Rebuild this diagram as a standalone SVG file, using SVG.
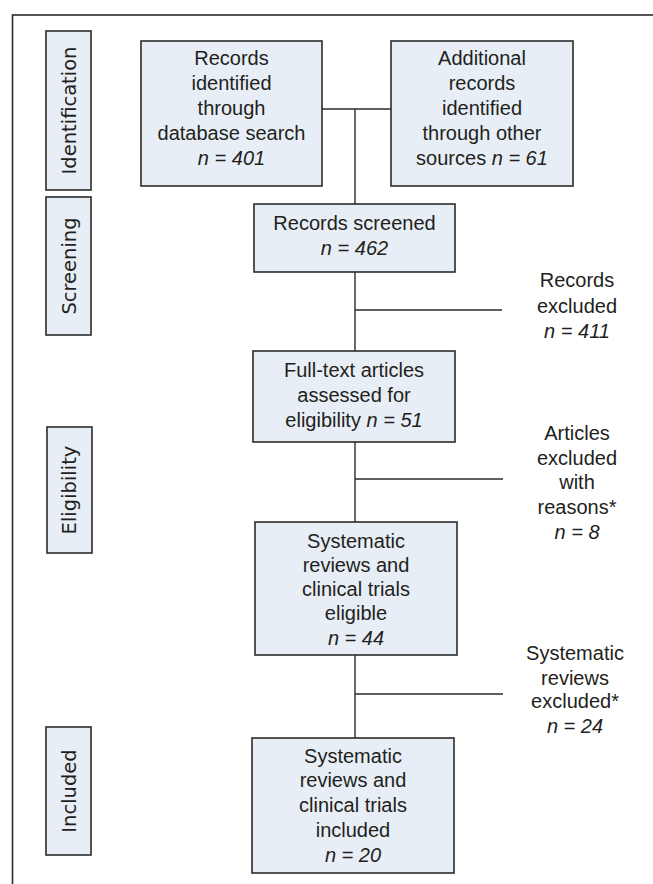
<svg xmlns="http://www.w3.org/2000/svg" width="653" height="884" viewBox="0 0 653 884">
<style>
  .box { fill: #e7eef5; stroke: #2b2b2b; stroke-width: 1.6; }
  .lbl { fill: #e7eef5; stroke: #2b2b2b; stroke-width: 1.6; }
  .t { font-family: "Liberation Sans", Arial, sans-serif; font-size: 20px; fill: #231f20; text-anchor: middle; }
  .side { font-family: "DejaVu Sans", Verdana, sans-serif; font-size: 19.5px; fill: #231f20; text-anchor: middle; }
  .i { font-style: italic; }
  .ln { stroke: #2b2b2b; stroke-width: 1.4; fill: none; }
</style>
<rect width="653" height="884" fill="#ffffff"/>
<rect x="12.5" y="15" width="700" height="900" fill="none" stroke="#2b2b2b" stroke-width="1.6"/>

<g id="label-identification">
  <rect class="lbl" x="46" y="31" width="45" height="159"/>
  <text class="side" transform="translate(75.5,110.5) rotate(-90)">Identification</text>
</g>
<g id="label-screening">
  <rect class="lbl" x="46" y="197" width="45" height="138"/>
  <text class="side" transform="translate(75.5,266) rotate(-90)">Screening</text>
</g>
<g id="label-eligibility">
  <rect class="lbl" x="47" y="427" width="45" height="126"/>
  <text class="side" transform="translate(76,490) rotate(-90)">Eligibility</text>
</g>
<g id="label-included">
  <rect class="lbl" x="46" y="727" width="45" height="128"/>
  <text class="side" transform="translate(75.5,791) rotate(-90)">Included</text>
</g>

<g id="connectors">
  <line class="ln" x1="322" y1="109" x2="391" y2="109"/>
  <line class="ln" x1="355" y1="109" x2="355" y2="204"/>
  <line class="ln" x1="355" y1="272" x2="355" y2="351"/>
  <line class="ln" x1="355" y1="442" x2="355" y2="522"/>
  <line class="ln" x1="355" y1="655" x2="355" y2="738"/>
  <line class="ln" x1="355" y1="310" x2="502" y2="310"/>
  <line class="ln" x1="355" y1="479" x2="503" y2="479"/>
  <line class="ln" x1="355" y1="694" x2="503" y2="694"/>
</g>

<g id="records-identified">
  <rect class="box" x="141" y="41" width="181" height="145"/>
  <text class="t" x="231.5" y="65">Records</text>
  <text class="t" x="231.5" y="90">identified</text>
  <text class="t" x="231.5" y="115">through</text>
  <text class="t" x="231.5" y="140">database search</text>
  <text class="t i" x="231.5" y="165">n = 401</text>
</g>

<g id="additional-records">
  <rect class="box" x="391" y="41" width="182" height="145"/>
  <text class="t" x="482" y="65">Additional</text>
  <text class="t" x="482" y="90">records</text>
  <text class="t" x="482" y="115">identified</text>
  <text class="t" x="482" y="140">through other</text>
  <text class="t" x="482" y="165">sources <tspan class="i">n = 61</tspan></text>
</g>

<g id="records-screened">
  <rect class="box" x="254" y="204" width="201" height="68"/>
  <text class="t" x="354.5" y="230">Records screened</text>
  <text class="t i" x="354.5" y="255">n = 462</text>
</g>

<g id="records-excluded">
  <text class="t" x="577" y="287">Records</text>
  <text class="t" x="577" y="313">excluded</text>
  <text class="t i" x="577" y="338">n = 411</text>
</g>

<g id="full-text">
  <rect class="box" x="253" y="351" width="202" height="91"/>
  <text class="t" x="354" y="377">Full-text articles</text>
  <text class="t" x="354" y="402">assessed for</text>
  <text class="t" x="354" y="427">eligibility <tspan class="i">n = 51</tspan></text>
</g>

<g id="articles-excluded">
  <text class="t" x="577" y="440">Articles</text>
  <text class="t" x="577" y="465">excluded</text>
  <text class="t" x="577" y="489">with</text>
  <text class="t" x="577" y="514">reasons*</text>
  <text class="t i" x="577" y="539">n = 8</text>
</g>

<g id="eligible">
  <rect class="box" x="255" y="522" width="202" height="133"/>
  <text class="t" x="356" y="548">Systematic</text>
  <text class="t" x="356" y="572">reviews and</text>
  <text class="t" x="356" y="596">clinical trials</text>
  <text class="t" x="356" y="620">eligible</text>
  <text class="t i" x="356" y="645">n = 44</text>
</g>

<g id="reviews-excluded">
  <text class="t" x="575" y="660">Systematic</text>
  <text class="t" x="575" y="685">reviews</text>
  <text class="t" x="575" y="708">excluded*</text>
  <text class="t i" x="575" y="733">n = 24</text>
</g>

<g id="included">
  <rect class="box" x="252" y="738" width="202" height="135"/>
  <text class="t" x="353" y="763">Systematic</text>
  <text class="t" x="353" y="787">reviews and</text>
  <text class="t" x="353" y="812">clinical trials</text>
  <text class="t" x="353" y="837">included</text>
  <text class="t i" x="353" y="862">n = 20</text>
</g>
</svg>
